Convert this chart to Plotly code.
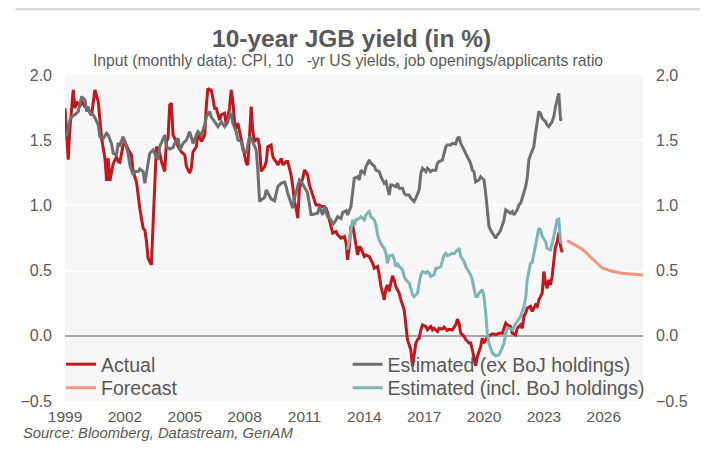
import plotly.graph_objects as go

# ---------------- data ----------------
actual_dates = [
    "1999-01","1999-02","1999-03","1999-04","1999-05","1999-06","1999-07","1999-08","1999-10","1999-11",
    "2000-01","2000-03","2000-05","2000-06","2000-07","2000-09","2000-10","2000-11",
    "2001-01","2001-02","2001-03","2001-04","2001-06","2001-08","2001-09","2001-10","2001-12",
    "2002-01","2002-03","2002-05","2002-06","2002-08","2002-09","2002-10","2002-12",
    "2003-01","2003-02","2003-03","2003-05","2003-06","2003-07","2003-08","2003-10","2003-11",
    "2004-01","2004-02","2004-03","2004-04","2004-05","2004-06","2004-08","2004-09","2004-11",
    "2005-01","2005-02","2005-04","2005-05","2005-06","2005-08","2005-09","2005-11",
    "2006-01","2006-02","2006-03","2006-04","2006-05","2006-06","2006-07","2006-08","2006-10","2006-11",
    "2007-01","2007-02","2007-03","2007-04","2007-05","2007-06","2007-07","2007-08","2007-09","2007-11","2007-12",
    "2008-02","2008-03","2008-04","2008-05","2008-06","2008-07","2008-09","2008-10","2008-11",
    "2009-01","2009-02","2009-03","2009-05","2009-06","2009-07","2009-08","2009-09","2009-11","2009-12",
    "2010-02","2010-03","2010-05","2010-06","2010-07","2010-08","2010-09","2010-10","2010-12",
    "2011-01","2011-03","2011-04","2011-05","2011-07","2011-08","2011-10","2011-11",
    "2012-01","2012-02","2012-03","2012-05","2012-06","2012-08","2012-09","2012-11",
    "2013-01","2013-02","2013-03","2013-04","2013-05","2013-06","2013-07","2013-08","2013-09","2013-10","2013-11",
    "2014-01","2014-02","2014-04","2014-05","2014-06","2014-07","2014-09","2014-10","2014-11",
    "2015-01","2015-02","2015-03","2015-04","2015-05","2015-06","2015-07","2015-08","2015-10","2015-11",
    "2016-01","2016-02","2016-03","2016-04","2016-05","2016-06","2016-07","2016-08","2016-09","2016-10","2016-11","2016-12",
    "2017-02","2017-03","2017-05","2017-06","2017-07","2017-09","2017-10","2017-12",
    "2018-01","2018-03","2018-04","2018-06","2018-08","2018-09","2018-10","2018-11",
    "2019-01","2019-02","2019-04","2019-05","2019-06","2019-07","2019-08","2019-09","2019-11","2019-12",
    "2020-01","2020-03","2020-04","2020-06","2020-08","2020-10","2020-12",
    "2021-02","2021-03","2021-05","2021-06","2021-08","2021-09","2021-11","2021-12",
    "2022-01","2022-02","2022-03","2022-05","2022-06","2022-08","2022-09","2022-10","2022-12",
    "2023-01","2023-02","2023-03","2023-04","2023-05","2023-06","2023-07","2023-08","2023-09","2023-10","2023-11","2023-12",
]
actual_values = [
    1.745,1.54,1.35,1.59,1.73,1.885,1.745,1.796,1.757,1.80,
    1.757,1.745,1.69,1.796,1.885,1.796,1.668,1.515,
    1.36,1.188,1.36,1.188,1.32,1.374,1.336,1.33,1.463,
    1.49,1.43,1.387,1.26,1.18,1.08,0.978,0.825,
    0.812,0.723,0.595,0.544,0.902,1.157,1.45,1.40,1.336,
    1.26,1.49,1.515,1.77,1.783,1.54,1.49,1.45,1.41,
    1.387,1.298,1.247,1.285,1.41,1.45,1.553,1.49,
    1.54,1.77,1.898,1.885,1.885,1.82,1.745,1.745,1.655,1.694,
    1.707,1.617,1.694,1.745,1.885,1.796,1.64,1.59,1.63,1.502,1.45,
    1.323,1.31,1.54,1.758,1.566,1.49,1.515,1.45,1.26,
    1.298,1.336,1.45,1.463,1.374,1.349,1.336,1.31,1.36,1.31,
    1.336,1.336,1.234,1.144,1.03,0.978,0.902,1.132,1.207,
    1.272,1.234,1.157,1.119,1.03,1.004,1.004,0.991,
    0.991,0.978,0.94,0.85,0.787,0.80,0.774,0.749,
    0.762,0.71,0.583,0.685,0.838,0.85,0.762,0.672,0.62,0.685,0.672,
    0.608,0.62,0.608,0.583,0.557,0.518,0.531,0.468,0.38,
    0.276,0.365,0.39,0.34,0.404,0.46,0.429,0.378,0.327,0.276,
    0.2,0.071,-0.03,-0.069,-0.107,-0.235,-0.13,-0.057,-0.03,-0.018,0.046,0.084,
    0.071,0.046,0.071,0.046,0.058,0.033,0.058,0.051,
    0.066,0.041,0.05,0.046,0.084,0.128,0.097,0.02,
    -0.005,-0.03,-0.056,-0.056,-0.107,-0.184,-0.23,-0.158,-0.082,-0.018,
    -0.056,-0.01,0.0,0.015,0.008,0.02,0.02,
    0.097,0.084,0.071,0.02,0.008,0.058,0.084,0.058,
    0.148,0.174,0.212,0.225,0.187,0.237,0.225,0.275,0.327,
    0.493,0.403,0.365,0.429,0.39,0.455,0.57,0.685,0.72,0.79,0.69,0.64,
]

est_ex_dates = [
    "1999-01","1999-02","1999-04","1999-05","1999-07","1999-09","1999-11",
    "2000-01","2000-02","2000-03","2000-04","2000-06","2000-07","2000-09","2000-10","2000-12",
    "2001-02","2001-03","2001-05","2001-06","2001-08","2001-09","2001-10","2001-12",
    "2002-01","2002-03","2002-04","2002-06","2002-07","2002-09","2002-10","2002-12",
    "2003-01","2003-03","2003-04","2003-06","2003-07","2003-09","2003-10","2003-12",
    "2004-01","2004-02","2004-04","2004-06","2004-07","2004-09","2004-10","2004-12",
    "2005-02","2005-04","2005-06","2005-08","2005-09","2005-11",
    "2006-01","2006-02","2006-04","2006-05","2006-07","2006-08","2006-09","2006-11",
    "2007-01","2007-03","2007-04","2007-05","2007-06","2007-08","2007-09","2007-11","2007-12",
    "2008-02","2008-03","2008-04","2008-05","2008-07","2008-08","2008-09","2008-10","2008-11",
    "2009-01","2009-02","2009-04","2009-05","2009-07","2009-08","2009-09","2009-11",
    "2010-01","2010-02","2010-03","2010-05","2010-06","2010-07","2010-09","2010-10","2010-11",
    "2011-01","2011-02","2011-03","2011-05","2011-06","2011-08","2011-09","2011-10","2011-12",
    "2012-01","2012-03","2012-05","2012-06","2012-08","2012-09","2012-11","2012-12",
    "2013-02","2013-03","2013-05","2013-06","2013-07","2013-09","2013-10","2013-11",
    "2014-01","2014-02","2014-04","2014-05","2014-07","2014-08","2014-10","2014-11",
    "2015-01","2015-02","2015-03","2015-04","2015-05","2015-06","2015-08","2015-09","2015-10","2015-12",
    "2016-01","2016-02","2016-04","2016-05","2016-07","2016-08","2016-10","2016-11","2016-12",
    "2017-02","2017-03","2017-05","2017-06","2017-08","2017-09","2017-10","2017-12",
    "2018-01","2018-02","2018-03","2018-05","2018-06","2018-08","2018-09","2018-10","2018-11",
    "2019-01","2019-02","2019-04","2019-05","2019-06","2019-07","2019-08","2019-10","2019-11",
    "2020-01","2020-02","2020-03","2020-04","2020-05","2020-06","2020-08","2020-09","2020-10","2020-11",
    "2021-01","2021-02","2021-04","2021-05","2021-06","2021-07","2021-09","2021-10","2021-11",
    "2022-01","2022-02","2022-03","2022-04","2022-05","2022-06","2022-07","2022-08","2022-09","2022-10","2022-11","2022-12",
    "2023-02","2023-03","2023-04","2023-06","2023-07","2023-08","2023-10","2023-11","2023-12",
]
est_ex_values = [
    1.527,1.54,1.655,1.68,1.694,1.72,1.834,
    1.808,1.72,1.757,1.707,1.694,1.673,1.617,1.527,1.515,
    1.553,1.54,1.476,1.40,1.387,1.476,1.463,1.527,
    1.49,1.40,1.31,1.234,1.26,1.26,1.28,1.26,
    1.17,1.323,1.40,1.425,1.40,1.349,1.45,1.502,
    1.54,1.45,1.433,1.443,1.476,1.515,1.425,1.476,
    1.502,1.566,1.476,1.54,1.566,1.54,
    1.617,1.68,1.72,1.68,1.64,1.617,1.604,1.64,
    1.604,1.64,1.694,1.707,1.63,1.566,1.502,1.49,1.425,
    1.40,1.463,1.527,1.515,1.463,1.425,1.26,1.03,1.042,
    1.06,1.119,1.08,1.05,1.035,1.08,1.144,1.17,
    1.18,1.144,1.093,1.017,0.978,1.055,1.157,1.195,1.182,
    1.144,1.119,1.093,0.93,0.93,0.94,0.94,0.991,0.927,
    0.991,0.914,0.888,0.85,0.888,0.914,0.90,0.945,
    0.96,0.927,0.991,1.12,1.208,1.22,1.195,1.27,
    1.246,1.297,1.348,1.323,1.302,1.27,1.259,1.22,
    1.17,1.182,1.131,1.08,1.157,1.157,1.144,1.17,1.131,1.131,
    1.093,1.08,1.08,1.055,1.03,1.055,1.119,1.246,1.285,
    1.259,1.285,1.259,1.27,1.27,1.323,1.336,1.348,
    1.412,1.45,1.464,1.464,1.476,1.471,1.514,1.527,1.476,
    1.425,1.40,1.349,1.323,1.27,1.259,1.18,1.195,1.22,
    1.195,1.09,0.966,0.838,0.812,0.787,0.748,0.774,0.787,0.812,
    0.889,0.966,0.953,0.94,0.953,0.927,0.966,1.004,1.017,
    1.106,1.144,1.208,1.349,1.387,1.425,1.45,1.553,1.642,1.72,1.706,1.668,
    1.642,1.617,1.604,1.642,1.68,1.757,1.86,1.66,1.655,
]

est_incl_dates = [
    "2013-03","2013-04","2013-05","2013-06","2013-07","2013-08","2013-10","2013-11",
    "2014-01","2014-02","2014-04","2014-05","2014-07","2014-08","2014-09","2014-10","2014-12",
    "2015-01","2015-02","2015-03","2015-04","2015-06","2015-07","2015-08","2015-09","2015-10","2015-12",
    "2016-01","2016-02","2016-04","2016-05","2016-06","2016-07","2016-09","2016-10","2016-11","2016-12",
    "2017-02","2017-03","2017-04","2017-05","2017-07","2017-08","2017-09","2017-11",
    "2018-01","2018-02","2018-03","2018-04","2018-06","2018-07","2018-09","2018-10","2018-11",
    "2019-01","2019-02","2019-04","2019-05","2019-06","2019-08","2019-09","2019-10","2019-12",
    "2020-01","2020-02","2020-03","2020-04","2020-05","2020-06","2020-08","2020-10","2020-11",
    "2021-01","2021-02","2021-03","2021-04","2021-06","2021-07","2021-09","2021-10","2021-11",
    "2022-01","2022-02","2022-03","2022-04","2022-05","2022-06","2022-07","2022-09","2022-10","2022-11","2022-12",
    "2023-02","2023-03","2023-05","2023-06","2023-07","2023-09","2023-10","2023-11","2023-12",
]
est_incl_values = [
    0.66,0.736,0.813,0.89,0.85,0.89,0.90,0.914,
    0.89,0.927,0.953,0.914,0.89,0.85,0.774,0.736,0.685,
    0.672,0.633,0.557,0.613,0.62,0.587,0.531,0.557,0.531,0.506,
    0.455,0.429,0.404,0.365,0.315,0.30,0.327,0.404,0.468,0.493,
    0.48,0.493,0.48,0.455,0.468,0.518,0.518,0.531,
    0.62,0.633,0.615,0.62,0.633,0.63,0.659,0.672,0.608,
    0.57,0.531,0.493,0.468,0.429,0.301,0.301,0.327,0.352,
    0.301,0.174,0.02,-0.056,-0.095,-0.133,-0.153,-0.146,-0.12,
    -0.056,0.02,0.058,0.058,0.046,0.071,0.11,0.135,0.148,
    0.225,0.288,0.429,0.506,0.557,0.563,0.633,0.761,0.825,0.812,0.761,
    0.723,0.672,0.659,0.71,0.761,0.889,0.894,0.723,0.71,
]

forecast_dates = ["2024-03", "2024-12", "2025-12", "2026-06", "2026-12", "2027-12-20"]
forecast_values = [0.73, 0.665, 0.52, 0.495, 0.48, 0.467]

y_ticks = [-0.5, 0.0, 0.5, 1.0, 1.5, 2.0]

# ---------------- styling ----------------
RED = "#c5161d"
GREY = "#6f6f6f"
TEAL = "#7db5b4"
SALMON = "#f4957c"
TXT = "#595959"
FONT = "Liberation Sans, Arial, sans-serif"

# page body has an 8px default margin -> figure drawn 8px smaller, offsets compensated
W, H = 700, 448
ML, MR, MT, MB = 50, 65, 67, 55
PH = H - MT - MB  # plot height in px (326)
PW = W - ML - MR  # plot width in px (585)


def py(page_y):
    """paper y for a page pixel row (plot top is page y 75)"""
    return 1 + (75 - page_y) / PH


def px(page_x):
    """paper x for a page pixel column (plot left is page x 58)"""
    return (page_x - 58) / PW


fig = go.Figure()
fig.add_trace(go.Scatter(x=actual_dates, y=actual_values, name="Actual", mode="lines",
                         line=dict(color=RED, width=3), legend="legend"))
fig.add_trace(go.Scatter(x=est_ex_dates, y=est_ex_values, name="Estimated (ex BoJ holdings)",
                         mode="lines", line=dict(color=GREY, width=3), legend="legend3"))
fig.add_trace(go.Scatter(x=forecast_dates, y=forecast_values, name="Forecast", mode="lines",
                         line=dict(color=SALMON, width=3), legend="legend2", yaxis="y2"))
fig.add_trace(go.Scatter(x=est_incl_dates, y=est_incl_values, name="Estimated (incl. BoJ holdings)",
                         mode="lines", line=dict(color=TEAL, width=3), legend="legend4"))

axis_font = dict(family=FONT, size=16, color=TXT)
yax = dict(range=[-0.5, 2.0], tickvals=y_ticks, tickformat=".1f", showgrid=True,
           gridcolor="#ffffff", gridwidth=1.5, zeroline=True, zerolinecolor="#a6a6a6",
           zerolinewidth=2, showline=False, ticks="", tickfont=axis_font,
           ticklabelstandoff=12)

leg_font = dict(family=FONT, size=19.5, color=TXT)


def leg(x, y):
    return dict(x=x, y=y, xanchor="left", yanchor="middle", bgcolor="rgba(0,0,0,0)",
                font=leg_font, itemwidth=30, borderwidth=0)


fig.update_layout(
    width=W, height=H,
    margin=dict(l=ML, r=MR, t=MT, b=MB),
    paper_bgcolor="#ffffff",
    plot_bgcolor="#f7f7f7",
    font=dict(family=FONT, color=TXT),
    xaxis=dict(type="date", range=["1999-01-01", "2027-12-20"], tick0="1999-01-01",
               dtick="M36", tickformat="%Y", showgrid=False, zeroline=False, showline=False,
               ticks="", tickfont=dict(family=FONT, size=15.5, color=TXT), ticklabelstandoff=4),
    yaxis=yax,
    yaxis2={**yax, "overlaying": "y", "side": "right", "matches": "y"},
    legend=leg(px(54), py(364.5)),
    legend2=leg(px(54), py(388)),
    legend3=leg(px(344), py(364.5)),
    legend4=leg(px(344), py(388)),
    showlegend=True,
)

fig.add_annotation(text="<b>10-year JGB yield (in %)</b>", xref="paper", yref="paper",
                   x=px(347.5), y=py(38), xanchor="center", yanchor="middle",
                   showarrow=False, font=dict(family=FONT, size=24.5, color=TXT))
fig.add_annotation(text="Input (monthly data): CPI, 10   -yr US yields, job openings/applicants ratio",
                   xref="paper", yref="paper", x=px(344), y=py(60),
                   xanchor="center", yanchor="middle", showarrow=False,
                   font=dict(family=FONT, size=15.7, color=TXT))
fig.add_annotation(text="<i>Source: Bloomberg, Datastream, GenAM</i>", xref="paper", yref="paper",
                   x=px(13), y=py(433), xanchor="left", yanchor="middle",
                   showarrow=False, font=dict(family=FONT, size=14.8, color=TXT))
fig.add_shape(type="line", xref="paper", yref="paper", x0=px(8), x1=px(705),
              y0=py(9), y1=py(9), line=dict(color="#d9d9d9", width=3))

fig.write_html("out.html")
